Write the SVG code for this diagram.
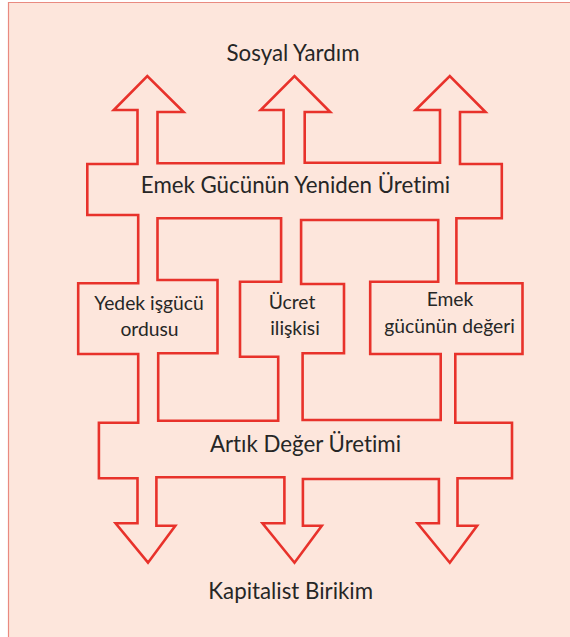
<svg xmlns="http://www.w3.org/2000/svg" width="570" height="637" viewBox="0 0 570 637">
<style>
.bg{fill:#FDE6DC}
.frame{fill:none;stroke:#E98A80;stroke-width:1.2}
.flow{fill:none;stroke:#E8322B;stroke-width:2.6;stroke-linejoin:miter;fill-rule:evenodd}
.t{font-family:Lato,"Open Sans","Liberation Sans",sans-serif;fill:#262626;text-anchor:middle;font-variant-ligatures:none}
.big{font-size:22.3px}
.mid{font-size:19.3px}
</style>
<rect x="0" y="0" width="570" height="637" fill="#FFFFFF"/>
<rect class="bg" x="8.5" y="2.5" width="561.5" height="634.5"/>
<path class="frame" d="M8.5,637 L8.5,2.5 L570,2.5"/>
<g id="connectors">
<path id="flow-shape" class="flow" d="M87.3,164 L137.5,164 L137.5,110 L113.8,110 L147.3,76 L183.6,112 L157.5,112 L157.5,163.3 L283.6,163.3 L283.6,110 L260.7,110 L294.5,76 L330.2,112 L304.7,112 L304.7,162.7 L440,162.7 L440,110 L415.6,110 L449.8,76 L485.5,112 L460,112 L460,164 L501.8,164 L501.8,218.3 L456.4,218.3 L456.4,283.3 L522.5,283.3 L522.5,354 L455.3,354 L455.3,422.7 L512,422.7 L512,478.3 L457.5,478.3 L457.5,525.7 L477.1,525.7 L449.8,562.7 L417.5,523.3 L438.9,523.3 L438.9,479 L302.9,479 L302.9,525.7 L321.8,525.7 L294.5,562.7 L262.5,523.3 L284.4,523.3 L284.4,477.3 L156.4,477.3 L156.4,525.7 L175.3,525.7 L148,562.7 L115.6,523.3 L137.5,523.3 L137.5,478.3 L98.9,478.3 L98.9,422.7 L138.2,422.7 L138.2,354 L78.2,354 L78.2,283.3 L138.2,283.3 L138.2,215 L87.3,215 Z M157.5,218.3 L281.1,218.3 L281.1,281.7 L240,281.7 L240,356.7 L278.2,356.7 L278.2,420.7 L158.2,420.7 L158.2,353.3 L217.5,353.3 L217.5,280 L157.5,280 Z M301.1,220 L438.2,220 L438.2,281.7 L370.2,281.7 L370.2,354 L440.7,354 L440.7,420 L302.6,420 L302.6,353.3 L344,353.3 L344,284 L301.1,284 Z"/>
</g>
<g id="sosyal-yardim"><text class="t big" x="293" y="61">Sosyal Yardım</text></g>
<g id="emek-gucunun-yeniden-uretimi"><text class="t big" x="295.5" y="192.7">Emek Gücünün Yeniden Üretimi</text></g>
<g id="yedek-isgucu-ordusu"><text class="t mid" x="149" y="310">Yedek işgücü</text><text class="t mid" x="149.5" y="336">ordusu</text></g>
<g id="ucret-iliskisi"><text class="t mid" x="292" y="309.3">Ücret</text><text class="t mid" x="295" y="335">ilişkisi</text></g>
<g id="emek-gucunun-degeri"><text class="t mid" x="450" y="306">Emek</text><text class="t mid" x="449.6" y="332.7">gücünün değeri</text></g>
<g id="artik-deger-uretimi"><text class="t big" x="305.5" y="452.3">Artık Değer Üretimi</text></g>
<g id="kapitalist-birikim"><text class="t big" x="290.7" y="599">Kapitalist Birikim</text></g>
</svg>
